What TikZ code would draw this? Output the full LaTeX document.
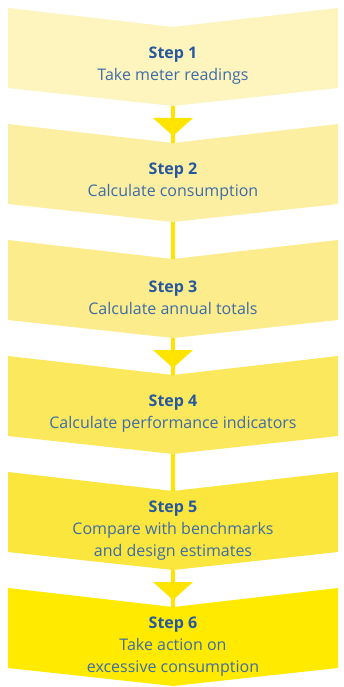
\documentclass[tikz,border=0pt]{standalone}
\usepackage{fontspec}
\setmainfont{Open Sans}
\definecolor{stepblue}{RGB}{38,88,160}
\definecolor{txtblue}{RGB}{62,108,168}
\definecolor{arrowy}{RGB}{255,228,0}
\definecolor{cA}{RGB}{254,244,190}
\definecolor{cB}{RGB}{253,239,162}
\definecolor{cC}{RGB}{252,236,140}
\definecolor{cD}{RGB}{251,232,92}
\definecolor{cE}{RGB}{250,230,60}
\definecolor{cF}{RGB}{255,234,0}
\tikzset{
  steptext/.style={align=center, text=txtblue, font=\fontsize{16}{22}\selectfont, inner sep=0pt},
  link/.style={draw=arrowy, line width=4pt},
  tip/.style={fill=arrowy, draw=none},
}
\newcommand{\chevbox}[3]{% #1 top, #2 colour, #3 index
  \fill[#2] (8,#1) -- (173,#1+19) -- (338,#1) -- (338,#1+80) -- (173,#1+98) -- (8,#1+80) -- cycle;
  \coordinate (t#3) at (173,#1+19);
  \coordinate (b#3) at (173,#1+98);
}
\begin{document}
\begin{tikzpicture}[x=1pt,y=-1pt]
\useasboundingbox (0,0) rectangle (343,687);
\fill[white] (0,0) rectangle (343,687);
\chevbox{8}{cA}{1}
\chevbox{124}{cB}{2}
\chevbox{240}{cC}{3}
\chevbox{356}{cD}{4}
\chevbox{472}{cE}{5}
\chevbox{588}{cF}{6}
% connectors
\draw[link] (b1) -- (t2);
\draw[link] (b2) -- (t3);
\draw[link] (b3) -- (t4);
\draw[link] (b4) -- (t5);
\draw[link] (b5) -- (t6);
% triangle tips
\foreach \k/\y in {1/118,3/350,5/582}{
  \fill[tip] (153,\y) -- (193,\y) -- (173,\y+18) -- cycle;
}
% texts
\node[steptext] (s1) at (173,66) {\textcolor{stepblue}{\textbf{Step 1}}\\Take meter readings};
\node[steptext] (s2) at (173,182) {\textcolor{stepblue}{\textbf{Step 2}}\\Calculate consumption};
\node[steptext] (s3) at (173,298) {\textcolor{stepblue}{\textbf{Step 3}}\\Calculate annual totals};
\node[steptext] (s4) at (173,414) {\textcolor{stepblue}{\textbf{Step 4}}\\Calculate performance indicators};
\node[steptext] (s5) at (173,531) {\textcolor{stepblue}{\textbf{Step 5}}\\Compare with benchmarks\\and design estimates};
\node[steptext] (s6) at (173,647) {\textcolor{stepblue}{\textbf{Step 6}}\\Take action on\\excessive consumption};
\end{tikzpicture}
\end{document}
